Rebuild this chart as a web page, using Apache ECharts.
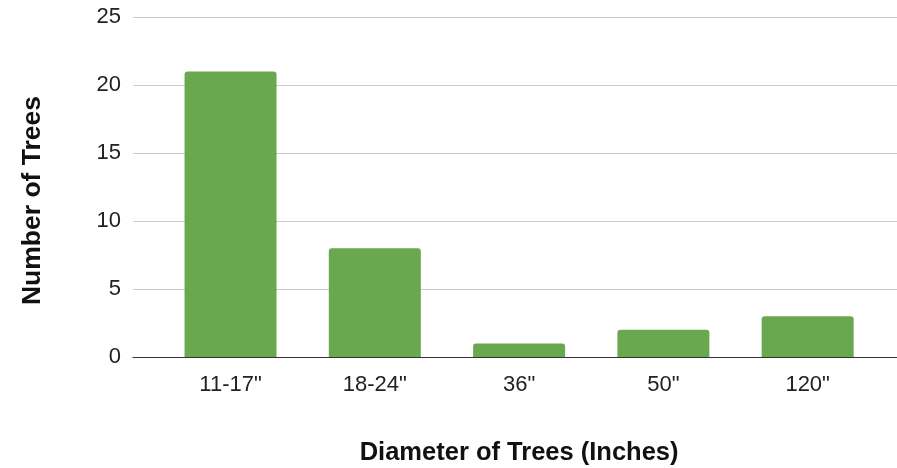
<!DOCTYPE html>
<html>
<head>
<meta charset="utf-8">
<script src="https://cdn.jsdelivr.net/npm/echarts@6/dist/echarts.min.js"></script>
<style>
  html, body { margin: 0; padding: 0; background: #fff; }
  #chart { width: 897px; height: 468px; }
</style>
</head>
<body>
<div id="chart"></div>
<script>
const categories = ['11-17"', '18-24"', '36"', '50"', '120"'];
const treeCounts = [21, 8, 1, 2, 3];
const yMin = 0;
const yMax = 25;
const yStep = 5;
const xTitle = 'Diameter of Trees (Inches)';
const yTitle = 'Number of Trees';

const FONT = '"Liberation Sans", Arial, sans-serif';
const chart = echarts.init(document.getElementById('chart'), null, { renderer: 'canvas' });

chart.setOption({
  animation: false,
  backgroundColor: '#ffffff',
  grid: [
    // full-width frame: gridlines, y labels and baseline
    { left: 133, right: 0, top: 17, bottom: 111, outerBoundsMode: 'none' },
    // inner band that holds the category slots
    { left: 158.4, right: 17.2, top: 17, bottom: 111, outerBoundsMode: 'none' }
  ],
  xAxis: [
    {
      type: 'value', gridIndex: 0, min: 0, max: 1,
      axisLine: { show: true, onZero: false, lineStyle: { color: '#333333', width: 1.2 } },
      axisTick: { show: false }, axisLabel: { show: false }, splitLine: { show: false }
    },
    {
      type: 'category', gridIndex: 1, data: categories,
      axisLine: { show: false }, axisTick: { show: false },
      axisLabel: { margin: 17, fontFamily: FONT, fontSize: 22, color: '#222222' },
      name: xTitle,
      nameLocation: 'middle', nameGap: 83,
      nameTextStyle: { fontFamily: FONT, fontSize: 25.5, fontWeight: 'bold', color: '#111111' }
    }
  ],
  yAxis: [
    {
      type: 'value', gridIndex: 0, min: yMin, max: yMax, interval: yStep,
      axisLine: { show: false }, axisTick: { show: false },
      axisLabel: { margin: 12, fontFamily: FONT, fontSize: 22, color: '#222222' },
      splitLine: { lineStyle: { color: '#cccccc', width: 1.2 } }
    },
    {
      type: 'value', gridIndex: 1, min: yMin, max: yMax, interval: yStep, show: false
    }
  ],
  graphic: [
    {
      type: 'text', x: 33, y: 200.5, rotation: Math.PI / 2,
      style: {
        text: yTitle, fontFamily: FONT, fontSize: 26.5, fontWeight: 'bold',
        fill: '#111111', align: 'center', verticalAlign: 'middle'
      }
    }
  ],
  series: [
    {
      type: 'bar', xAxisIndex: 1, yAxisIndex: 1,
      data: treeCounts, barWidth: 92,
      itemStyle: { color: '#6aa84f', borderRadius: [3, 3, 0, 0] }
    }
  ]
});
</script>
</body>
</html>
